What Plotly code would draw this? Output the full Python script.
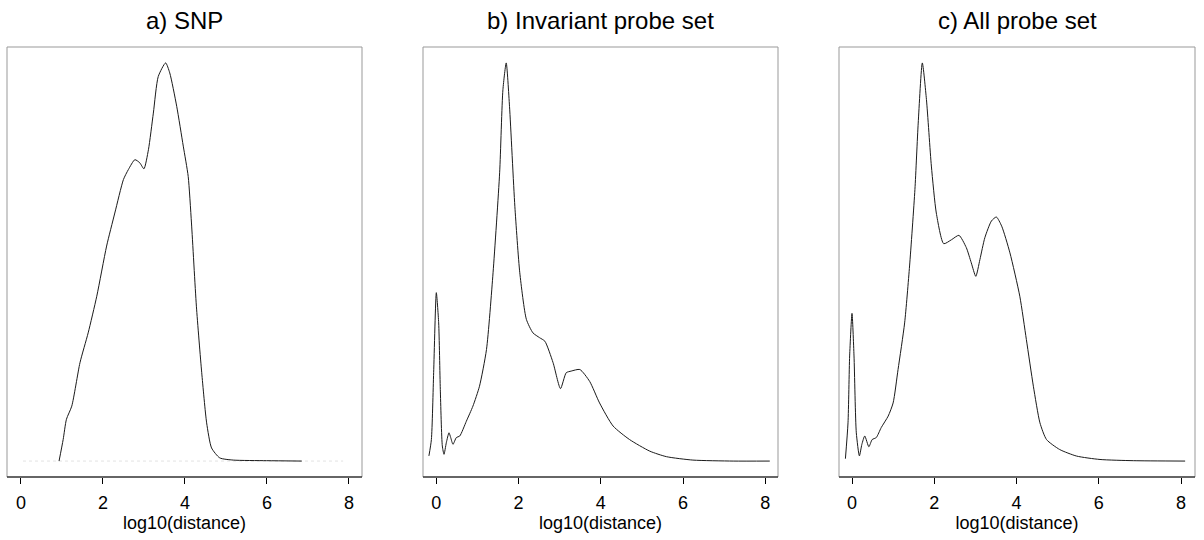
import plotly.graph_objects as go

# ---- data (relative density, peak = 1) ----
snp_x = [0.93, 1.03, 1.11, 1.24, 1.44, 1.64, 1.85, 2.09, 2.29, 2.50, 2.62, 2.78, 2.90, 3.00,
         3.11, 3.23, 3.35, 3.53, 3.63, 3.80, 3.96, 4.08, 4.16, 4.28, 4.41, 4.53, 4.65, 4.85,
         5.18, 5.99, 6.85]
snp_y = [0.0, 0.054, 0.105, 0.138, 0.247, 0.322, 0.414, 0.54, 0.623, 0.707, 0.732, 0.757, 0.749, 0.734,
         0.782, 0.874, 0.966, 1.0, 0.975, 0.891, 0.791, 0.715, 0.598, 0.389, 0.222, 0.096, 0.033, 0.008,
         0.0025, 0.001, 0.0]
snp_base_x = [0.05, 7.86]
snp_base_y = [0.0, 0.0]

inv_x = [-0.18, -0.12, -0.065, 0.0, 0.057, 0.097, 0.146, 0.187, 0.243, 0.308, 0.35, 0.405, 0.487,
         0.57, 0.73, 0.89, 1.05, 1.22, 1.38, 1.54, 1.62, 1.70, 1.78, 1.91, 2.03, 2.19, 2.35, 2.51,
         2.64, 2.84, 3.02, 3.16, 3.28, 3.49, 3.73, 3.97, 4.30, 4.70, 5.19, 5.6, 6.24, 7.22, 8.11]
inv_y = [0.013, 0.054, 0.222, 0.423, 0.347, 0.18, 0.038, 0.017, 0.046, 0.071, 0.059, 0.042, 0.059,
         0.063, 0.1, 0.138, 0.188, 0.28, 0.473, 0.724, 0.933, 1.0, 0.891, 0.64, 0.473, 0.356, 0.322, 0.31,
         0.301, 0.247, 0.182, 0.222, 0.226, 0.23, 0.2, 0.146, 0.088, 0.054, 0.025, 0.011, 0.0025, 0.0, 0.0]

all_x = [-0.16, -0.097, -0.057, 0.0, 0.049, 0.105, 0.18, 0.24, 0.31, 0.41, 0.49, 0.59, 0.71, 0.88,
         1.0, 1.12, 1.28, 1.40, 1.53, 1.61, 1.71, 1.81, 1.93, 2.05, 2.23, 2.42, 2.60, 2.78, 2.90,
         3.01, 3.11, 3.23, 3.39, 3.51, 3.64, 3.84, 4.08, 4.24, 4.41, 4.57, 4.73, 5.05, 5.46, 6.03,
         6.84, 8.10]
all_y = [0.006, 0.096, 0.264, 0.371, 0.264, 0.071, 0.013, 0.042, 0.063, 0.036, 0.054, 0.059, 0.084, 0.113,
         0.146, 0.23, 0.347, 0.49, 0.682, 0.849, 1.0, 0.908, 0.741, 0.623, 0.546, 0.556, 0.567, 0.536, 0.498,
         0.464, 0.506, 0.561, 0.603, 0.613, 0.59, 0.523, 0.414, 0.305, 0.188, 0.096, 0.054, 0.029, 0.0126, 0.004,
         0.001, 0.0]

titles = ["a) SNP", "b) Invariant probe set", "c) All probe set"]
tick_vals = [0, 2, 4, 6, 8]
tick_text = ["0", "2", "4", "6", "8"]
x_title = "log10(distance)"

W, H = 1204, 540
panels_px = [(7, 362), (423, 778), (839, 1195)]
xranges = [[-0.34, 8.32], [-0.324, 8.31], [-0.316, 8.34]]
y_dom = [(540 - 477) / H, (540 - 47) / H]

fig = go.Figure()
font = "Liberation Sans, Arial, Helvetica, sans-serif"

series = [(snp_x, snp_y), (inv_x, inv_y), (all_x, all_y)]
for i, (sx, sy) in enumerate(series):
    xa = "x" if i == 0 else f"x{i+1}"
    ya = "y" if i == 0 else f"y{i+1}"
    if i == 0:
        fig.add_trace(go.Scatter(x=snp_base_x, y=snp_base_y, mode="lines",
                                 line=dict(color="#e2e2e2", width=1, dash="dot"),
                                 xaxis=xa, yaxis=ya, showlegend=False, hoverinfo="skip"))
    fig.add_trace(go.Scatter(x=sx, y=sy, mode="lines",
                             line=dict(color="#1a1a1a", width=1, shape="spline", smoothing=0.6),
                             xaxis=xa, yaxis=ya, showlegend=False))

layout = dict(width=W, height=H, margin=dict(l=0, r=0, t=0, b=0),
              paper_bgcolor="white", plot_bgcolor="white",
              font=dict(family=font, color="black"))
shapes = []
annotations = []
for i, (l, r) in enumerate(panels_px):
    sfx = "" if i == 0 else str(i + 1)
    layout["xaxis" + sfx] = dict(domain=[l / W, r / W], range=xranges[i],
                                 anchor="y" + sfx, showgrid=False, zeroline=False,
                                 showline=False, ticks="outside", ticklen=6, tickwidth=1,
                                 tickcolor="black", tickvals=tick_vals, ticktext=tick_text,
                                 ticklabelstandoff=3,
                                 tickfont=dict(size=18, family=font, color="black"),
                                 title=dict(text=x_title, font=dict(size=18, family=font, color="black"),
                                            standoff=0))
    layout["yaxis" + sfx] = dict(domain=y_dom, range=[-0.04, 1.04], anchor="x" + sfx,
                                 visible=False)
    shapes.append(dict(type="rect", xref=f"x{sfx} domain", yref=f"y{sfx} domain",
                       x0=0, x1=1, y0=0, y1=1, line=dict(color="#999999", width=1)))
    shapes.append(dict(type="line", xref=f"x{sfx} domain", yref=f"y{sfx} domain",
                       x0=0, x1=1, y0=0, y1=0, line=dict(color="black", width=1)))
    annotations.append(dict(text=titles[i], xref="paper", yref="paper",
                            x=(l + r) / 2 / W, y=(540 - 21) / H, showarrow=False,
                            xanchor="center", yanchor="middle",
                            font=dict(size=24, family=font, color="black")))
layout["shapes"] = shapes
layout["annotations"] = annotations
fig.update_layout(**layout)
fig.write_html("out.html")
